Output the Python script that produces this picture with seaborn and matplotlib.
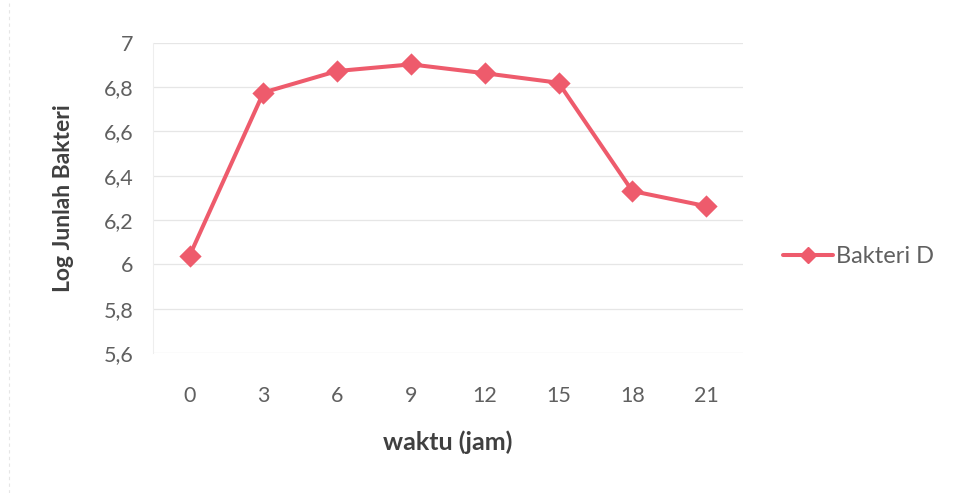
import matplotlib
matplotlib.use("Agg")
import matplotlib.pyplot as plt
from matplotlib.ticker import FuncFormatter, MultipleLocator
import seaborn as sns
import pandas as pd

# Growth of bacteria D over time
waktu = ["0", "3", "6", "9", "12", "15", "18", "21"]
log_bakteri = [6.04, 6.776, 6.873, 6.903, 6.863, 6.82, 6.331, 6.263]
series_name = "Bakteri D"

df = pd.DataFrame({"waktu": waktu, "log": log_bakteri, "seri": series_name})

sns.set_theme(style="white")
plt.rcParams["font.family"] = ["Lato", "DejaVu Sans"]

line_color = "#EE5B6C"
tick_color = "#606060"
label_color = "#404040"

fig = plt.figure(figsize=(9.55, 4.93), dpi=100)
ax = fig.add_axes([0.160, 0.284, 0.618, 0.629])

sns.pointplot(
    data=df, x="waktu", y="log", hue="seri", order=waktu,
    palette=[line_color], markers="D", markersize=9, linewidth=2.9,
    ax=ax, legend=False,
)

ax.set_xlim(-0.5, len(waktu) - 0.5)
ax.set_ylim(5.6, 7.0)
ax.yaxis.set_major_locator(MultipleLocator(0.2))


def koma(v, pos):
    s = f"{v:.1f}"
    if s.endswith(".0"):
        s = s[:-2]
    return s.replace(".", ",")


ax.yaxis.set_major_formatter(FuncFormatter(koma))
ax.grid(axis="y", color="#E6E6E6", linewidth=0.9)
ax.grid(axis="x", visible=False)
for side in ["top", "right", "bottom"]:
    ax.spines[side].set_visible(False)
ax.spines["left"].set_color("#EEEEEE")
ax.spines["left"].set_linewidth(0.8)

ax.tick_params(axis="y", length=0, pad=14, labelsize=15.5, labelcolor=tick_color)
ax.tick_params(axis="x", length=0, pad=24, labelsize=15.5, labelcolor=tick_color)

ax.set_xlabel("waktu (jam)", fontsize=18, fontweight="bold", color=label_color, labelpad=17)
ax.set_ylabel("Log Junlah Bakteri", fontsize=16.5, fontweight="bold", color=label_color, labelpad=21)

handle = plt.Line2D([], [], color=line_color, linewidth=2.9, marker="D", markersize=8)
fig.legend(
    [handle], [series_name], loc="center left", bbox_to_anchor=(0.820, 0.479),
    frameon=False, fontsize=17, labelcolor=tick_color, handlelength=2.1,
    handletextpad=0.15, borderpad=0.0, borderaxespad=0.0,
)

# faint outer frame on the left edge
fig.add_artist(plt.Line2D([0.009, 0.009], [0.0, 1.0], transform=fig.transFigure,
                          color="#E6E6E6", linewidth=0.8, linestyle=(0, (3, 3))))

fig.savefig("out.png", dpi=100, facecolor="white")
